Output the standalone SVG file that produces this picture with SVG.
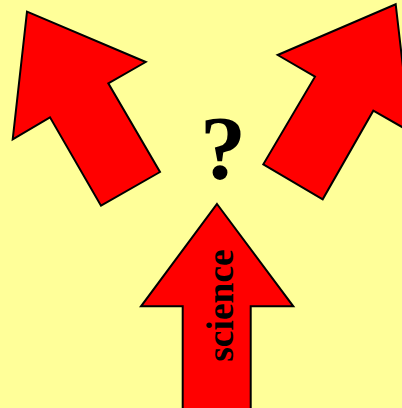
<svg xmlns="http://www.w3.org/2000/svg" width="402" height="408" viewBox="0 0 402 408">
<style>
.arrow{fill:#ff0000;stroke:#000;stroke-width:2;stroke-linejoin:miter}
.lbl{font-family:"Liberation Serif","Times New Roman",serif;font-weight:bold;fill:#000}
</style>
<rect width="402" height="408" fill="#ffff99"/>
<g id="arrow-left">
<polygon class="arrow" points="27,11.7 145.7,62 108.3,83.3 160,172 101,205.7 50,117.3 12.7,139.3"/>
</g>
<g id="arrow-right">
<polygon class="arrow" points="395.7,4.3 410.5,131.8 373.3,110.7 322.7,199.3 263.3,164.3 315,76.7 277.7,55"/>
</g>
<g id="arrow-science">
<polygon class="arrow" points="217,204 293.3,306.3 250.7,306.3 250.7,412 182.7,412 182.7,306.3 141,306.3"/>
<text class="lbl" font-size="37.5" text-anchor="middle" transform="translate(233,305.5) rotate(-90)">science</text>
</g>
<g id="question">
<text class="lbl" font-size="92" text-anchor="middle" x="223" y="179">?</text>
</g>
</svg>
